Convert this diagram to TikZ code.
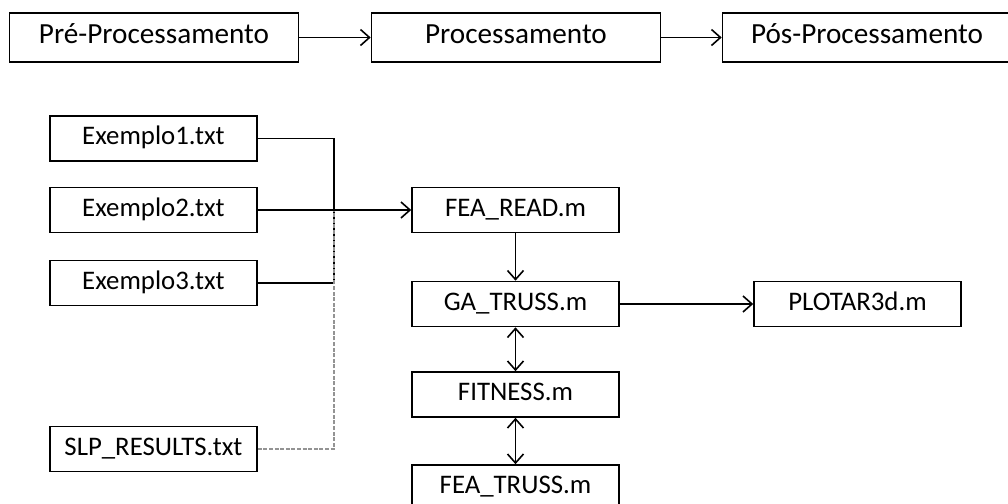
\documentclass[tikz,border=0pt]{standalone}
\usepackage{fontspec}
\setmainfont{Carlito}
\usetikzlibrary{arrows.meta}
\begin{document}
\begin{tikzpicture}[x=.5pt, y=-.5pt,
	box/.style={draw, line width=.8pt, minimum width=103.5pt, minimum height=22.5pt, inner sep=0pt, text height=.78em, text depth=.14em, font=\fontsize{13.4}{16}\selectfont},
	topbox/.style={box, minimum width=144.5pt, minimum height=24.5pt, font=\fontsize{14.6}{17}\selectfont},
	arr/.style={line width=.8pt, -{Straight Barb[length=4.5pt, width=8pt]}},
	darr/.style={line width=.8pt, {Straight Barb[length=4.5pt, width=8pt]}-{Straight Barb[length=4.5pt, width=8pt]}}]
	\useasboundingbox (0,0) rectangle (1008,504);
	\node[topbox] (pre) at (154,37.5) {Pré-Processamento};
	\node[topbox] (proc) at (516,37.5) {Processamento};
	\node[topbox] (pos) at (867,37.5) {Pós-Processamento};
	\draw[arr] (pre) -- (proc);
	\draw[arr] (proc) -- (pos);
	\node[box] (ex1) at (153.5,138.5) {Exemplo1.txt};
	\node[box] (ex2) at (153.5,210) {Exemplo2.txt};
	\node[box] (ex3) at (153.5,283) {Exemplo3.txt};
	\node[box] (slp) at (153.5,449) {SLP\_RESULTS.txt};
	\node[box] (read) at (515.5,210) {FEA\_READ.m};
	\node[box] (ga) at (515.5,304) {GA\_TRUSS.m};
	\node[box] (fit) at (515.5,394.5) {FITNESS.m};
	\node[box] (truss) at (515.5,487.5) {FEA\_TRUSS.m};
	\node[box] (plot) at (857.5,304) {PLOTAR3d.m};
	\coordinate (j) at (334,210);
	\draw[line width=.8pt] (ex1.east) -| (j);
	\draw[line width=.8pt] (ex3.east) -| (j);
	\draw[gray!85, line width=1pt, dash pattern=on 2pt off .8pt] (slp.east) -| (j);
	\draw[arr] (ex2.east) -- (read.west);
	\draw[arr] (read) -- (ga);
	\draw[darr] (ga) -- (fit);
	\draw[darr] (fit) -- (truss);
	\draw[arr] (ga) -- (plot);
\end{tikzpicture}
\end{document}
